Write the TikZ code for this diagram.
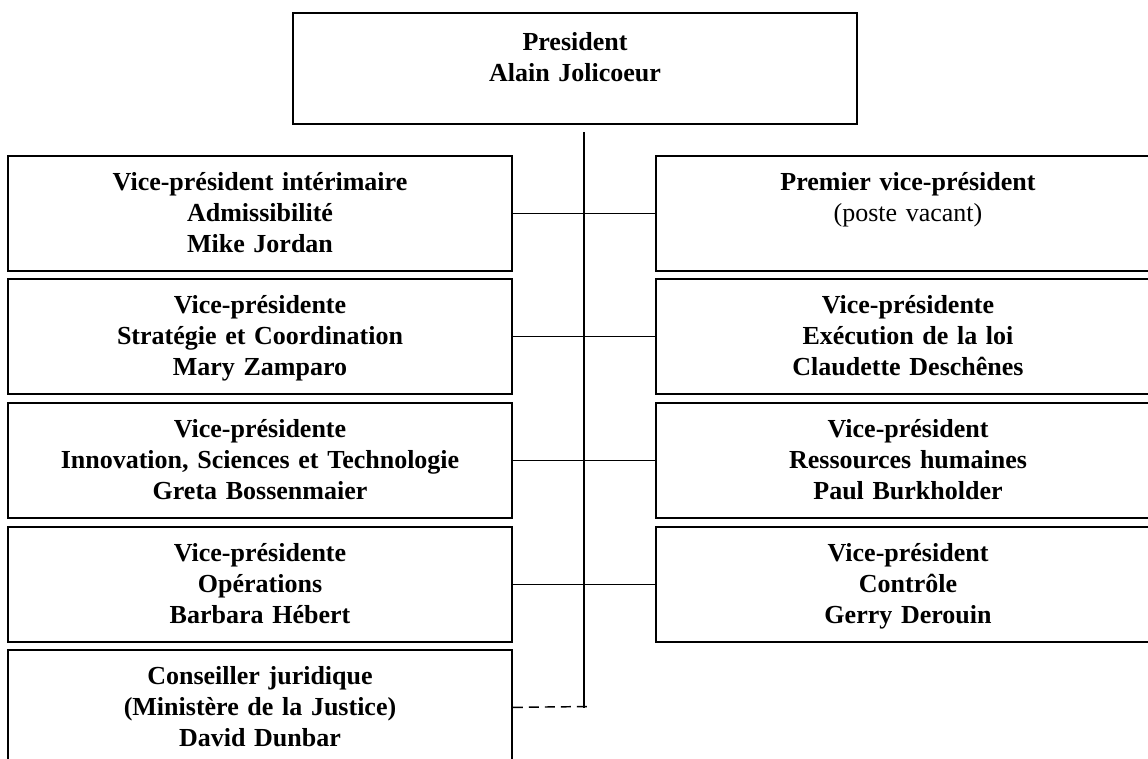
\documentclass[tikz,border=0pt]{standalone}
\usepackage{fontspec}
\setmainfont{Liberation Serif}
\usepackage{tikz}
\usetikzlibrary{positioning}
\tikzstyle{post}=[draw=black,
                  line width=1.3pt,
                  inner xsep=0pt,
                  inner ysep=0pt,
                  anchor=north,
                  text width=378pt,
                  align=center,
                  text height=26.25pt,
                  text depth=60pt,
                  font=\fontsize{19.5}{23.25}\selectfont\bfseries]
\tikzstyle{pres}=[post,
                  text width=423pt,
                  text height=28.5pt,
                  text depth=54.75pt]
\tikzstyle{link}=[line width=1.1pt]
\tikzstyle{advice}=[line width=1.1pt, dash pattern=on 7.5pt off 4.5pt]

\begin{document}
\begin{tikzpicture}[x=0.75pt,y=-0.75pt]
    \useasboundingbox (0,0) rectangle (1148,758);
    \node[pres] (president) at (575,12) {President\\ Alain Jolicoeur};
    % left column
    \node[post] (admiss) at (260,155) {Vice-président intérimaire\\ Admissibilité\\ Mike Jordan};
    \node[post] (strat) at (260,278) {Vice-présidente\\ Stratégie et Coordination\\ Mary Zamparo};
    \node[post] (innov) at (260,402) {Vice-présidente\\ Innovation, Sciences et Technologie\\ Greta Bossenmaier};
    \node[post] (oper) at (260,526) {Vice-présidente\\ Opérations\\ Barbara Hébert};
    \node[post] (legal) at (260,649) {Conseiller juridique\\ (Ministère de la Justice)\\ David Dunbar};
    % right column
    \node[post] (premier) at (908,155) {Premier vice-président\\ {\mdseries (poste vacant)}\\ ~};
    \node[post] (enforce) at (908,278) {Vice-présidente\\ Exécution de la loi\\ Claudette Deschênes};
    \node[post] (hr) at (908,402) {Vice-président\\ Ressources humaines\\ Paul Burkholder};
    \node[post] (control) at (908,526) {Vice-président\\ Contrôle\\ Gerry Derouin};
    \coordinate (trunktop) at (584,132);
    \coordinate (trunkend) at (584,708);
    \coordinate (dashend) at (588,706.5);
    \draw[link] (trunktop) -- (trunkend);
    \draw[link] (admiss.east) -- (premier.west);
    \draw[link] (strat.east) -- (enforce.west);
    \draw[link] (innov.east) -- (hr.west);
    \draw[link] (oper.east) -- (control.west);
    \draw[advice] (legal.east) -- (dashend);
\end{tikzpicture}
\end{document}
